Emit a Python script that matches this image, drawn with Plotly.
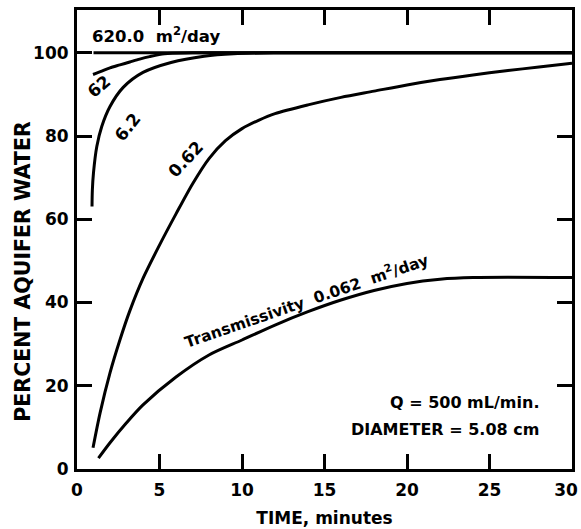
import plotly.graph_objects as go

# ---- data ----
t_620 = [1.0, 30.0]
p_620 = [100.0, 100.0]

t_62 = [0.97, 1.5, 2.0, 2.6, 3.2, 3.8, 4.4, 5.3, 7.0, 30.0]
p_62 = [94.8, 95.6, 96.4, 97.1, 97.8, 98.5, 99.1, 99.8, 100.0, 100.0]

t_6_2 = [0.91, 0.93, 1.0, 1.2, 1.5, 2.0, 2.8, 4.0, 5.7, 7.7, 9.5, 12.0, 30.0]
p_6_2 = [63.1, 67.0, 71.2, 77.5, 82.3, 87.1, 91.7, 95.3, 97.7, 99.2, 99.8, 100.0, 100.0]

t_0_62 = [0.97, 1.4, 2.0, 2.6, 3.2, 4.0, 5.0, 6.0, 7.0, 8.0, 9.0, 10.0,
          11.0, 12.0, 14.0, 16.0, 18.0, 20.0, 22.0, 24.0, 26.0, 28.0, 30.0]
p_0_62 = [5.1, 13.5, 23.1, 31.0, 38.0, 45.8, 53.8, 61.3, 68.5, 74.6, 78.9, 81.8,
          83.8, 85.4, 87.5, 89.3, 90.8, 92.3, 93.6, 94.7, 95.7, 96.6, 97.5]

t_0_062 = [1.3, 2.0, 3.0, 4.0, 6.0, 8.0, 10.0, 12.0, 14.0, 16.0, 18.0, 20.0, 22.0, 24.0, 30.0]
p_0_062 = [2.6, 6.3, 11.1, 15.4, 22.1, 27.4, 31.0, 34.6, 37.8, 40.6, 42.9, 44.6, 45.6, 46.0, 46.0]

x_ticks = [0, 5, 10, 15, 20, 25, 30]
x_tick_text = ["0", "5", "10", "15", "20", "25", "30\u00a0\u00a0"]
y_ticks = [0, 20, 40, 60, 80, 100]
y_tick_text = ["0", "20", "40", "60", "80", "100"]

FONT = "DejaVu Sans"

fig = go.Figure()
for tx, py in [(t_620, p_620), (t_62, p_62), (t_6_2, p_6_2), (t_0_62, p_0_62), (t_0_062, p_0_062)]:
    fig.add_trace(go.Scatter(x=tx, y=py, mode="lines",
                             line=dict(color="black", width=3, shape="spline", smoothing=0.8),
                             showlegend=False, hoverinfo="skip"))

def ann(x, y, text, angle=0, size=17, xanchor="center"):
    fig.add_annotation(x=x, y=y, xref="x", yref="y", text=text, showarrow=False,
                       textangle=angle, xanchor=xanchor, yanchor="middle",
                       font=dict(family=FONT, size=size, color="black", weight="bold"))

ann(0.79, 104.2, "620.0  m<sup>2</sup>/day", xanchor="left", size=16.5)
ann(1.35, 92.0, "62", angle=-40)
ann(3.05, 82.3, "6.2", angle=-52)
ann(6.6, 74.4, "0.62", angle=-47)
ann(13.9, 40.6, "Transmissivity  0.062  m<sup>2</sup>/day", angle=-19, size=15.5)
ann(28.1, 16.1, "Q = 500 mL/min.", xanchor="right", size=16)
ann(28.1, 9.4, "DIAMETER = 5.08 cm", xanchor="right", size=16)

# y-axis title as a rotated paper-anchored label (reference sits below plot centre)
fig.add_annotation(x=-0.109, y=0.43, xref="paper", yref="paper",
                   text="PERCENT AQUIFER WATER", showarrow=False, textangle=-90,
                   xanchor="center", yanchor="middle",
                   font=dict(family=FONT, size=20.5, color="black", weight="bold"))

axis_common = dict(
    showline=True, linewidth=3, linecolor="black", mirror="ticks",
    ticks="inside", ticklen=15, tickwidth=2.5, tickcolor="black",
    showgrid=False, zeroline=False, automargin=False,
    tickfont=dict(family=FONT, size=17, color="black", weight="bold"),
)

fig.update_xaxes(range=[0, 30], tickvals=x_ticks, ticktext=x_tick_text,
                 ticklabelstandoff=4, ticklabeloverflow="allow",
                 title=dict(text="TIME, minutes", standoff=13,
                            font=dict(family=FONT, size=17, color="black", weight="bold")),
                 **axis_common)
fig.update_yaxes(range=[0, 110.3], tickvals=y_ticks, ticktext=y_tick_text,
                 ticklabelstandoff=2,
                 **axis_common)

fig.update_layout(width=581, height=529, margin=dict(l=77, r=9, t=10, b=60),
                  plot_bgcolor="white", paper_bgcolor="white",
                  font=dict(family=FONT, color="black", weight="bold"))

fig.write_html("out.html", config={"displayModeBar": False},
               post_script="document.body.style.margin='0';document.body.style.overflow='hidden';")
